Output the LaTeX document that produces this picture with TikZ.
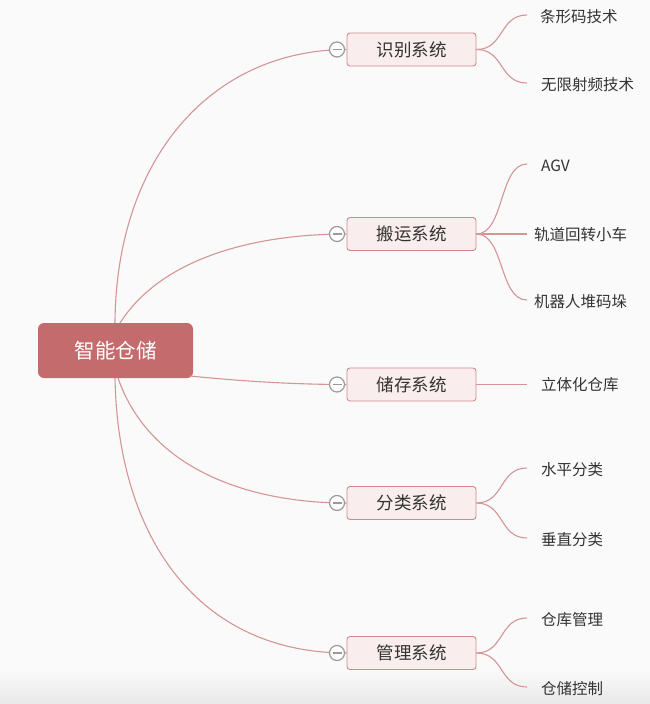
\documentclass[tikz,border=0pt]{standalone}
\usepackage{fontspec}
\setmainfont{Noto Sans CJK SC}
\usetikzlibrary{shadings,calc}
\definecolor{bg}{HTML}{FAFAFA}
\definecolor{rootfill}{HTML}{C46C6D}
\definecolor{subfill}{HTML}{F9EDED}
\definecolor{subdraw}{HTML}{D08A8B}
\definecolor{linkc}{HTML}{D49596}
\definecolor{txt}{HTML}{333333}
\definecolor{circc}{HTML}{9A9A9A}
\tikzset{
  x=1pt, y=-1pt,
  rootbox/.style={fill=rootfill, draw=none, rounded corners=6pt, minimum width=155pt, minimum height=55pt, text=white, font=\fontsize{20.5}{20.5}\selectfont},
  subbox/.style={fill=subfill, draw=subdraw, line width=0.9pt, rounded corners=3pt, minimum width=129pt, minimum height=33pt, text=txt, font=\fontsize{17.5}{17.5}\selectfont},
  leaf/.style={anchor=west, text=txt, inner sep=0pt, font=\fontsize{15.5}{15.5}\selectfont},
  link/.style={draw=linkc, line width=1.1pt},
  toggle/.style={circle, draw=circc, fill=white, line width=1.2pt, minimum size=15pt, inner sep=0pt,
    path picture={\draw[circc, line width=1.2pt] ([xshift=-4.5pt]path picture bounding box.center) -- ([xshift=4.5pt]path picture bounding box.center);}},
}
\begin{document}
\begin{tikzpicture}
\useasboundingbox (0,0) rectangle (650,704);
\fill[bg] (0,0) rectangle (650,704);
\shade[top color=bg, bottom color=black!9] (0,668) rectangle (650,704);

\node[rootbox] (root) at (115.5,350.5) {智能仓储};

\node[subbox] (s1) at (411.5,49.5) {识别系统};
\node[subbox] (s2) at (411.5,234) {搬运系统};
\node[subbox] (s3) at (411.5,384.5) {储存系统};
\node[subbox] (s4) at (411.5,503) {分类系统};
\node[subbox] (s5) at (411.5,653) {管理系统};

\coordinate (r1) at (115,323);
\coordinate (r2) at (120,323);
\coordinate (r3) at (190,376);
\coordinate (r4) at (118,378);
\coordinate (r5) at (115,378);

\draw[link] (r1) .. controls (116,160) and (210,50) .. (s1.west);
\draw[link] (r2) .. controls (160,260) and (250,234) .. (s2.west);
\draw[link] (r3) .. controls (250,382) and (300,384.5) .. (s3.west);
\draw[link] (r4) .. controls (150,470) and (250,503) .. (s4.west);
\draw[link] (r5) .. controls (118,540) and (200,653) .. (s5.west);

\node[toggle] (t1) at (337,49.5) {};
\node[toggle] (t2) at (337,234) {};
\node[toggle] (t3) at (337,384.5) {};
\node[toggle] (t4) at (337,503) {};
\node[toggle] (t5) at (337,653) {};

\node[leaf] (l11) at (540,17) {条形码技术};
\node[leaf] (l12) at (541,85) {无限射频技术};
\node[leaf] (l21) at (541,166) {AGV};
\node[leaf] (l22) at (534,235) {轨道回转小车};
\node[leaf] (l23) at (534,302) {机器人堆码垛};
\node[leaf] (l31) at (541,385) {立体化仓库};
\node[leaf] (l41) at (541,470) {水平分类};
\node[leaf] (l42) at (541,540) {垂直分类};
\node[leaf] (l51) at (541,620) {仓库管理};
\node[leaf] (l52) at (541,689) {仓储控制};

\coordinate (e11) at (527,15);
\coordinate (e12) at (527,83);
\coordinate (e21) at (527,164);
\coordinate (e22) at (527,234);
\coordinate (e23) at (527,300);
\coordinate (e31) at (527,384.5);
\coordinate (e41) at (527,468);
\coordinate (e42) at (527,538);
\coordinate (e51) at (527,618);
\coordinate (e52) at (527,687);

\foreach \s/\e in {s1/e11,s1/e12,s2/e21,s2/e22,s2/e23,s4/e41,s4/e42,s5/e51,s5/e52}{
  \draw[link] (\s.east) .. controls ($(\s.east)+(28,0)$) and ($(\e)+(-28,0)$) .. (\e);
}
\draw[link] (s3.east) -- (e31);
\end{tikzpicture}
\end{document}
